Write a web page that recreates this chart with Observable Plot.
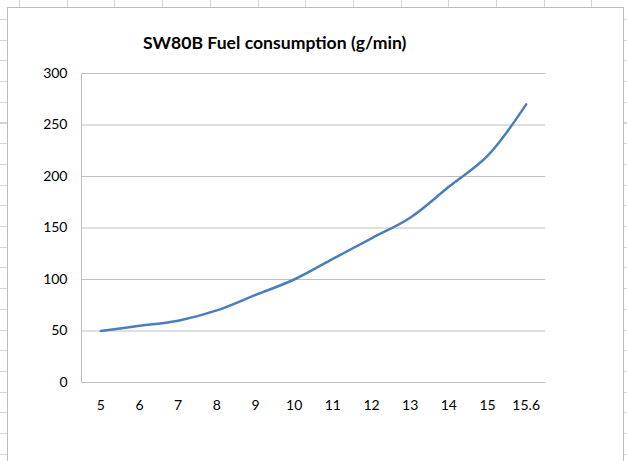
<!DOCTYPE html>
<html><head><meta charset="utf-8">
<script src="https://cdn.jsdelivr.net/npm/d3@7"></script>
<script src="https://cdn.jsdelivr.net/npm/@observablehq/plot@0.6"></script>
<style>
html,body{margin:0;padding:0;background:#fff;}
#wrap{position:relative;width:627px;height:461px;overflow:hidden;
  background:
   repeating-linear-gradient(to right, transparent 0 19px, #d4d4d4 19px 20px, transparent 20px 47.7px) 0 0/100% 7px no-repeat,
   repeating-linear-gradient(to bottom, transparent 0 19px, #d4d4d4 19px 20px, transparent 20px 20.7px) 0 0/7px 100% no-repeat,
   repeating-linear-gradient(to bottom, transparent 0 19px, #d4d4d4 19px 20px, transparent 20px 20.7px) 623px 0/4px 100% no-repeat,
   #fff;}
#box{position:absolute;left:7px;top:7px;width:615px;height:470px;border:1px solid #bdbdbd;background:#fff;}
#chart{position:absolute;left:0;top:0;}
#title{position:absolute;left:143px;top:32px;font:bold 17.6px Lato, "Open Sans", sans-serif;color:#000;white-space:nowrap;}
</style></head>
<body>
<div id="wrap"><div id="box"></div><div id="chart"></div><div id="title">SW80B Fuel consumption (g/min)</div></div>
<script>
const speeds = ["5","6","7","8","9","10","11","12","13","14","15","15.6"];
const fuel = [50, 55, 60, 70, 85, 100, 120, 140, 160, 190, 220, 270];
const yTicks = [0, 50, 100, 150, 200, 250, 300];
const data = speeds.map((s, i) => ({speed: s, fuel: fuel[i]}));

const chart = Plot.plot({
  width: 627, height: 461,
  marginLeft: 81, marginRight: 82, marginTop: 73, marginBottom: 79,
  style: {background: "transparent", fontFamily: "Lato, 'Open Sans', sans-serif", fontSize: "14px", color: "#000"},
  x: {type: "point", domain: speeds, padding: 0.5, round: false, label: null, tickSize: 0, tickPadding: 18},
  y: {domain: [0, 300], ticks: yTicks, label: null, tickSize: 0, tickPadding: 14},
  marks: [
    Plot.ruleY(yTicks, {stroke: "#bfbfbf", strokeWidth: 1}),
    Plot.ruleX([speeds[0]], {stroke: "#bfbfbf", strokeWidth: 1, dx: -464 / 24, y1: 0, y2: 300}),
    Plot.line(data, {x: "speed", y: "fuel", stroke: "#4a7ebb", strokeWidth: 2.5, curve: "catmull-rom"})
  ]
});
document.getElementById("chart").appendChild(chart);
</script>
</body></html>
